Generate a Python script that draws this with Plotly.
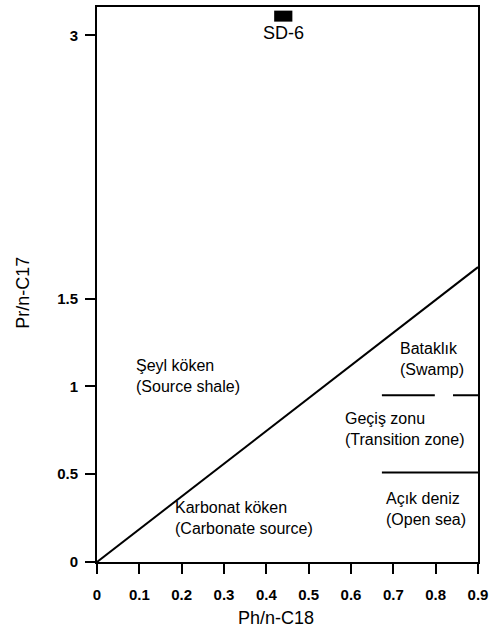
import plotly.graph_objects as go

# ---- data ----
x_ticks = [0, 0.1, 0.2, 0.3, 0.4, 0.5, 0.6, 0.7, 0.8, 0.9]
x_tick_labels = ["0", "0.1", "0.2", "0.3", "0.4", "0.5", "0.6", "0.7", "0.8", "0.9"]
y_ticks = [0, 0.5, 1, 1.5, 3]
y_tick_labels = ["0", "0.5", "1", "1.5", "3"]

boundary_x = [0, 0.9]
boundary_y = [0, 1.68]

swamp_line_x = [0.673, 0.798, None, 0.841, 0.9]
swamp_line_y = [0.95, 0.95, None, 0.95, 0.95]
sea_line_x = [0.673, 0.9]
sea_line_y = [0.51, 0.51]

sample_x = [0.44]
sample_y = [3.11]
sample_names = ["SD-6"]

zone_labels = ["Şeyl köken<br>(Source shale)",
               "Karbonat köken<br>(Carbonate source)",
               "Bataklık<br>(Swamp)",
               "Geçiş zonu<br>(Transition zone)",
               "Açık deniz<br>(Open sea)"]
zone_x = [0.087, 0.180, 0.712, 0.580, 0.677]
zone_y = [1.058, 0.248, 1.156, 0.757, 0.301]

FONT = "Liberation Sans, Arial, Helvetica, sans-serif"

fig = go.Figure()

fig.add_trace(go.Scatter(x=boundary_x, y=boundary_y, mode="lines",
                         line=dict(color="black", width=2), hoverinfo="skip"))
fig.add_trace(go.Scatter(x=swamp_line_x, y=swamp_line_y, mode="lines",
                         line=dict(color="black", width=2), hoverinfo="skip"))
fig.add_trace(go.Scatter(x=sea_line_x, y=sea_line_y, mode="lines",
                         line=dict(color="black", width=2), hoverinfo="skip"))
fig.add_trace(go.Scatter(x=sample_x, y=sample_y, mode="markers",
                         marker=dict(symbol="line-ew", size=13,
                                     line=dict(color="black", width=11)),
                         hoverinfo="skip"))

for name, sx, sy in zip(sample_names, sample_x, sample_y):
    fig.add_annotation(x=sx, y=sy, text=name, showarrow=False,
                       xanchor="center", yanchor="middle", yshift=-17,
                       font=dict(family=FONT, size=18, color="black"))

for t, zx, zy in zip(zone_labels, zone_x, zone_y):
    fig.add_annotation(x=zx, y=zy, text=t, showarrow=False, align="left",
                       xanchor="left", yanchor="middle",
                       font=dict(family=FONT, size=16, color="black"))

# axis titles
fig.add_annotation(xref="paper", yref="paper", x=0.47, y=0, yshift=-56,
                   text="Ph/n-C18", showarrow=False, xanchor="center", yanchor="middle",
                   font=dict(family=FONT, size=18, color="black"))
fig.add_annotation(xref="paper", yref="paper", x=0, y=0.485, xshift=-74,
                   text="Pr/n-C17", showarrow=False, textangle=-90,
                   xanchor="center", yanchor="middle",
                   font=dict(family=FONT, size=18, color="black"))

axis_common = dict(showline=True, linecolor="black", linewidth=2, mirror=True,
                   ticks="outside", ticklen=10, tickwidth=2, tickcolor="black",
                   showgrid=False, zeroline=False,
                   tickfont=dict(family=FONT, size=15, color="black", weight="bold"))

fig.update_xaxes(range=[0, 0.9], tickvals=x_ticks, ticktext=x_tick_labels,
                 ticklabelstandoff=8, **axis_common)
fig.update_yaxes(range=[0, 3.162], tickvals=y_ticks, ticktext=y_tick_labels,
                 ticklabelstandoff=4, **axis_common)

fig.update_layout(width=496, height=633, showlegend=False,
                  margin=dict(l=97, r=18, t=5, b=71),
                  paper_bgcolor="white", plot_bgcolor="white")

fig.write_html("out.html")
